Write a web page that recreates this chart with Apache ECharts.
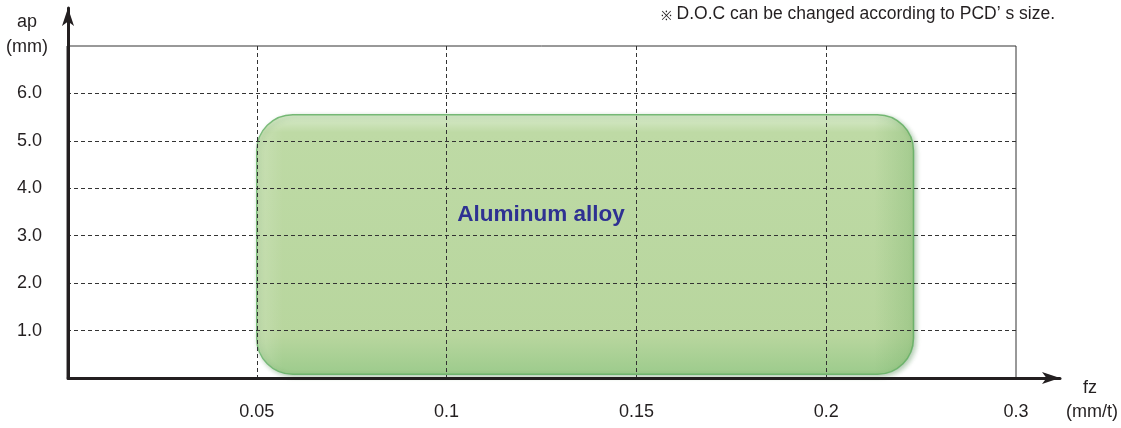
<!DOCTYPE html>
<html>
<head>
<meta charset="utf-8">
<script src="https://cdn.jsdelivr.net/npm/echarts@6/dist/echarts.min.js"></script>
<style>html,body{margin:0;padding:0;background:#fff}#c{width:1121px;height:428px}</style>
</head>
<body>
<div id="c"></div>
<script>
// fz tick values (mm/t) shown at equal spacing along the x axis
var fzTicks = [0, 0.05, 0.1, 0.15, 0.2, 0.3];
var fzLabels = ['', '0.05', '0.1', '0.15', '0.2', '0.3'];
// ap tick values (mm)
var apTicks = [1, 2, 3, 4, 5, 6];
var apMax = 7;
// Recommended region: Aluminum alloy
var regionName = 'Aluminum alloy';
var regionFz = [0.05, 0.246];
var regionAp = [0.08, 5.55];
var noteMark = '※';
var noteText = ' D.O.C can be changed according to PCD’ s size.';

function fzToIdx(v) {
  for (var i = 0; i < fzTicks.length - 1; i++) {
    if (v <= fzTicks[i + 1]) {
      return i + (v - fzTicks[i]) / (fzTicks[i + 1] - fzTicks[i]);
    }
  }
  return fzTicks.length - 1;
}

var FONT = 'Liberation Sans, Arial, sans-serif';
var TXT = '#231f20';
var chart = echarts.init(document.getElementById('c'));
var dashed = {show: true, showMinLine: false, showMaxLine: false,
  lineStyle: {color: '#333', width: 1, type: [4, 3]}};

chart.setOption({
  animation: false,
  grid: [
    {left: 67, right: 105, top: 46, bottom: 50, show: true, borderColor: '#333', borderWidth: 1, backgroundColor: 'transparent'},
    {left: 68, right: 61, top: 8, bottom: 50, show: false}
  ],
  xAxis: [
    {gridIndex: 0, type: 'value', min: 0, max: fzTicks.length - 1, interval: 1, z: 3,
      axisLine: {show: false}, axisTick: {show: false}, splitLine: dashed,
      axisLabel: {margin: 25, fontSize: 18, color: TXT, fontFamily: FONT,
        formatter: function (v) { return fzLabels[Math.round(v)] || ''; }}},
    {gridIndex: 1, type: 'value', min: 0, max: 1, z: 4,
      axisLine: {show: true, symbol: ['none', 'arrow'], symbolSize: [9, 18],
        lineStyle: {color: TXT, width: 3}},
      axisTick: {show: false}, axisLabel: {show: false}, splitLine: {show: false}}
  ],
  yAxis: [
    {gridIndex: 0, type: 'value', min: 0, max: apMax, interval: 1, z: 3,
      axisLine: {show: false}, axisTick: {show: false}, splitLine: dashed,
      axisLabel: {margin: 25, fontSize: 18, color: TXT, fontFamily: FONT,
        formatter: function (v) { return apTicks.indexOf(v) >= 0 ? v.toFixed(1) : ''; }}},
    {gridIndex: 1, type: 'value', min: 0, max: 1, z: 4,
      axisLine: {show: true, symbol: ['none', 'arrow'], symbolSize: [9, 18],
        lineStyle: {color: TXT, width: 3}},
      axisTick: {show: false}, axisLabel: {show: false}, splitLine: {show: false}}
  ],
  series: [{
    type: 'custom', xAxisIndex: 0, yAxisIndex: 0, z: 1,
    data: [[fzToIdx(regionFz[0]), fzToIdx(regionFz[1]), regionAp[0], regionAp[1]]],
    renderItem: function (params, api) {
      var p0 = api.coord([api.value(0), api.value(3)]);
      var p1 = api.coord([api.value(1), api.value(2)]);
      var shape = {x: p0[0], y: p0[1], width: p1[0] - p0[0], height: p1[1] - p0[1], r: 36};
      return {
        type: 'group',
        children: [{
          type: 'rect', shape: shape,
          style: {
            fill: new echarts.graphic.LinearGradient(0, 0, 0, 1, [
              {offset: 0, color: '#dcedd0'},
              {offset: 0.07, color: '#bedaa5'},
              {offset: 0.85, color: '#b8d69e'},
              {offset: 1, color: '#9ccb8c'}
            ]),
            stroke: 'rgba(105,178,105,0.9)', lineWidth: 1.5,
            shadowBlur: 5, shadowColor: 'rgba(40,110,40,0.35)', shadowOffsetX: 2, shadowOffsetY: 2
          }
        }, {
          type: 'rect', shape: shape, silent: true,
          style: {
            fill: new echarts.graphic.LinearGradient(0, 0, 1, 0, [
              {offset: 0, color: 'rgba(255,255,255,0.18)'},
              {offset: 0.04, color: 'rgba(255,255,255,0)'},
              {offset: 0.94, color: 'rgba(90,160,80,0)'},
              {offset: 1, color: 'rgba(90,160,80,0.25)'}
            ])
          }
        }]
      };
    }
  }],
  graphic: [
    {type: 'text', right: 66, top: 5, z: 10,
      style: {text: '{m|' + noteMark + '}{t|' + noteText + '}', fill: TXT, fontFamily: FONT,
        rich: {m: {fontSize: 13, fontFamily: FONT, fill: TXT, verticalAlign: 'bottom'},
               t: {fontSize: 17.5, fontFamily: FONT, fill: TXT}}}},
    {type: 'text', x: 27, y: 22, z: 10,
      style: {text: 'ap', fontSize: 18, fill: TXT, fontFamily: FONT, align: 'center', verticalAlign: 'middle'}},
    {type: 'text', x: 27, y: 47, z: 10,
      style: {text: '(mm)', fontSize: 18, fill: TXT, fontFamily: FONT, align: 'center', verticalAlign: 'middle'}},
    {type: 'text', x: 1090, y: 388, z: 10,
      style: {text: 'fz', fontSize: 18, fill: TXT, fontFamily: FONT, align: 'center', verticalAlign: 'middle'}},
    {type: 'text', x: 1092, y: 412, z: 10,
      style: {text: '(mm/t)', fontSize: 18, fill: TXT, fontFamily: FONT, align: 'center', verticalAlign: 'middle'}},
    {type: 'text', x: 541, y: 215, z: 10,
      style: {text: regionName, fontSize: 22.5, fontWeight: 'bold', fill: '#2e3192', fontFamily: FONT, align: 'center', verticalAlign: 'middle'}}
  ]
});
</script>
</body>
</html>
